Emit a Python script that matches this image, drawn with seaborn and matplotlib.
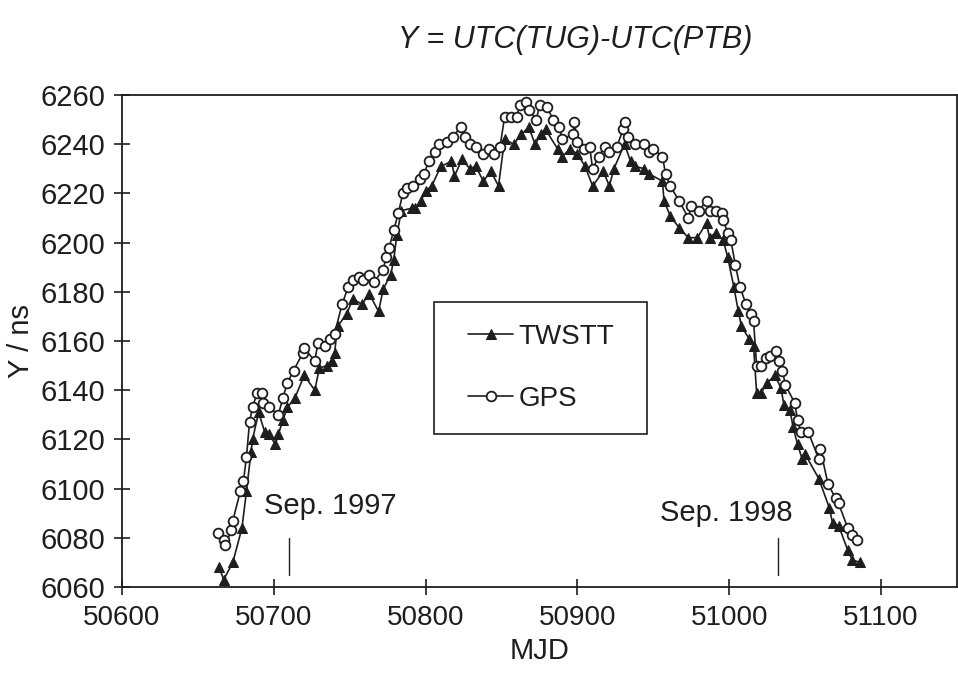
import pandas as pd
import matplotlib.pyplot as plt
import seaborn as sns
from matplotlib.patches import Rectangle

# Values (MJD, ns)
gps_mjd = [50663, 50667, 50668, 50672, 50673, 50678, 50680, 50682, 50684, 50686,
           50689, 50692, 50693, 50697, 50703, 50706, 50709, 50713, 50719, 50720,
           50727, 50729, 50734, 50737, 50740, 50745, 50749, 50752, 50756, 50759,
           50763, 50766, 50772, 50774, 50776, 50779, 50782, 50785, 50788, 50792,
           50796, 50799, 50802, 50806, 50809, 50814, 50818, 50823, 50826, 50829,
           50833, 50838, 50842, 50845, 50849, 50852, 50856, 50860, 50862, 50866,
           50868, 50873, 50875, 50880, 50884, 50888, 50890, 50897, 50898, 50900,
           50904, 50908, 50910, 50914, 50918, 50921, 50926, 50930, 50931, 50933,
           50938, 50944, 50947, 50950, 50956, 50958, 50961, 50967, 50973, 50975,
           50980, 50985, 50987, 50991, 50995, 50996, 50999, 51001, 51004, 51007,
           51011, 51014, 51016, 51018, 51021, 51024, 51027, 51031, 51033, 51035,
           51037, 51043, 51045, 51047, 51052, 51059, 51060, 51065, 51070, 51072,
           51078, 51081, 51084]
gps_ns = [6082, 6079, 6077, 6083, 6087, 6099, 6103, 6113, 6127, 6133,
          6139, 6139, 6135, 6133, 6130, 6137, 6143, 6148, 6155, 6157,
          6152, 6159, 6158, 6161, 6163, 6175, 6182, 6185, 6186, 6185,
          6187, 6184, 6189, 6194, 6198, 6205, 6212, 6220, 6222, 6223,
          6226, 6228, 6233, 6237, 6240, 6241, 6243, 6247, 6243, 6240,
          6239, 6236, 6238, 6236, 6239, 6251, 6251, 6251, 6256, 6257,
          6254, 6250, 6256, 6255, 6250, 6247, 6242, 6244, 6249, 6241,
          6238, 6239, 6230, 6235, 6239, 6237, 6239, 6246, 6249, 6243,
          6240, 6240, 6237, 6238, 6235, 6228, 6223, 6217, 6210, 6215,
          6213, 6217, 6213, 6213, 6212, 6209, 6204, 6201, 6191, 6182,
          6175, 6171, 6168, 6150, 6150, 6153, 6154, 6156, 6152, 6148,
          6142, 6135, 6128, 6123, 6123, 6112, 6116, 6102, 6096, 6094,
          6084, 6081, 6079]

tw_mjd = [50664, 50667, 50673, 50679, 50682, 50685, 50686, 50690, 50694, 50697,
          50701, 50703, 50706, 50709, 50714, 50720, 50727, 50730, 50735, 50738,
          50740, 50742, 50748, 50752, 50758, 50763, 50769, 50772, 50777, 50779,
          50781, 50784, 50791, 50793, 50797, 50800, 50804, 50810, 50817, 50819,
          50824, 50829, 50833, 50838, 50843, 50848, 50852, 50858, 50863, 50868,
          50872, 50876, 50879, 50887, 50890, 50895, 50900, 50905, 50910, 50917,
          50921, 50924, 50931, 50935, 50938, 50944, 50947, 50956, 50957, 50961,
          50967, 50973, 50979, 50985, 50987, 50991, 50996, 50999, 51003, 51006,
          51008, 51013, 51016, 51018, 51021, 51025, 51030, 51034, 51036, 51040,
          51042, 51045, 51048, 51050, 51059, 51066, 51068, 51072, 51078, 51081,
          51086]
tw_ns = [6068, 6063, 6070, 6084, 6099, 6115, 6120, 6131, 6123, 6122,
         6118, 6122, 6128, 6133, 6137, 6146, 6140, 6149, 6150, 6152,
         6155, 6166, 6171, 6177, 6175, 6179, 6172, 6181, 6187, 6193,
         6203, 6213, 6214, 6214, 6217, 6221, 6223, 6231, 6233, 6227,
         6234, 6230, 6231, 6225, 6229, 6223, 6242, 6240, 6244, 6247,
         6240, 6244, 6246, 6238, 6235, 6238, 6236, 6231, 6223, 6229,
         6223, 6230, 6240, 6233, 6231, 6230, 6228, 6225, 6217, 6211,
         6206, 6202, 6202, 6208, 6202, 6204, 6201, 6194, 6182, 6172,
         6166, 6161, 6158, 6139, 6139, 6143, 6146, 6141, 6134, 6132,
         6125, 6118, 6112, 6114, 6104, 6092, 6086, 6085, 6075, 6071,
         6070]

# September markers: tick position, label position, label text
sep_mjd = [50710, 51032]
sep_text_mjd = [50737, 50998]
sep_text_y = [6093, 6090]
sep_labels = ['Sep. 1997', 'Sep. 1998']

gps = pd.DataFrame({'MJD': gps_mjd, 'Y': gps_ns})
tw = pd.DataFrame({'MJD': tw_mjd, 'Y': tw_ns})

sns.set_style('ticks')
plt.rcParams['font.family'] = ['Liberation Sans', 'DejaVu Sans']
ink = '#1e1e1e'

fig = plt.figure(figsize=(9.58, 6.86), dpi=100)
ax = fig.add_axes([122 / 958, 1 - 587 / 686, 835 / 958, 492 / 686])

sns.lineplot(data=tw, x='MJD', y='Y', ax=ax, color=ink, lw=1.2, marker='^',
             markersize=7.5, markerfacecolor=ink, markeredgecolor=ink,
             estimator=None, label='TWSTT')
sns.lineplot(data=gps, x='MJD', y='Y', ax=ax, color=ink, lw=1.2, marker='o',
             markersize=7, markerfacecolor='white', markeredgecolor=ink,
             markeredgewidth=1.3, estimator=None, label='GPS')

ax.set_xlim(50600, 51150)
ax.set_ylim(6060, 6260)
ax.set_xticks(range(50600, 51101, 100))
ax.set_yticks(range(6060, 6261, 20))
ax.tick_params(direction='inout', length=12, width=1.2, colors=ink, pad=7)
ax.tick_params(axis='x', labelsize=20)
ax.tick_params(axis='y', labelsize=21, pad=6)
for s in ax.spines.values():
    s.set_color(ink)
    s.set_linewidth(1.3)

ax.set_xlabel('MJD', fontsize=21, color=ink, labelpad=4)
ax.set_ylabel('Y / ns', fontsize=21, color=ink)
ax.yaxis.set_label_coords(-0.104, 0.5)

for m, tx, ty, lab in zip(sep_mjd, sep_text_mjd, sep_text_y, sep_labels):
    ax.plot([m, m], [6065, 6080], color=ink, lw=1)
    ax.text(tx, ty, lab, ha='center', va='center', fontsize=21, color=ink)

fig.text(575 / 958, 1 - 40 / 686, 'Y = UTC(TUG)-UTC(PTB)', ha='center',
         va='center', fontsize=22, style='italic', color=ink)

# legend box drawn separately so the side padding can be wider than top/bottom
ax.add_patch(Rectangle((0.374, 0.311), 0.255, 0.268, transform=ax.transAxes,
                       fill=True, facecolor='white', edgecolor=ink, lw=1.2,
                       zorder=4))
leg = ax.legend(loc='center', bbox_to_anchor=(0.502, 0.445), fontsize=20,
                frameon=False, handlelength=1.6, labelspacing=1.3,
                borderpad=0, handletextpad=0.2, borderaxespad=0)
leg.set_zorder(5)
for t in leg.get_texts():
    t.set_color(ink)

fig.savefig('out.png', dpi=100)
